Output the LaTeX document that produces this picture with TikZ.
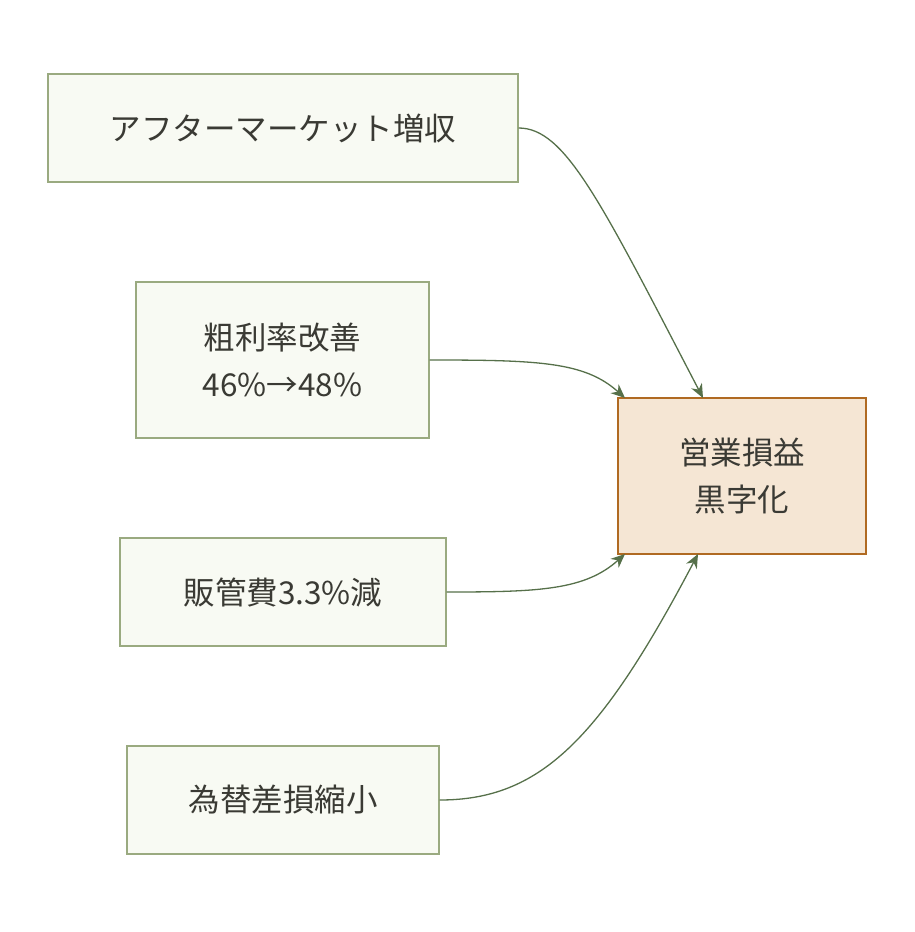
\documentclass[tikz,border=0pt]{standalone}
\usepackage{fontspec}
\setmainfont{Noto Sans CJK JP}
\usetikzlibrary{arrows.meta}
\definecolor{bfill}{HTML}{F8FAF3}
\definecolor{bdraw}{HTML}{9AAA80}
\definecolor{tfill}{HTML}{F5E6D4}
\definecolor{tdraw}{HTML}{B06A22}
\definecolor{edge}{HTML}{56704A}
\definecolor{txt}{HTML}{3A3A34}
\begin{document}
\begin{tikzpicture}[x=1pt,y=-1pt,
  box/.style={draw=bdraw,fill=bfill,line width=1.3pt,inner sep=0pt,text=txt,font=\fontsize{31.5}{47}\selectfont,align=center},
  tgt/.style={draw=tdraw,fill=tfill,line width=1.3pt,inner sep=0pt,text=txt,font=\fontsize{31.5}{47}\selectfont,align=center},
  arr/.style={draw=edge,line width=1.3pt,-{Stealth[length=14pt,width=12pt]}}]
\useasboundingbox (0,0) rectangle (914,932);
\node[box,minimum width=470pt,minimum height=108pt] (a) at (283,128) {アフターマーケット増収};
\node[box,minimum width=293pt,minimum height=156pt] (b) at (282.5,360) {粗利率改善\\46\%→48\%};
\node[box,minimum width=326pt,minimum height=108pt] (c) at (283,592) {販管費3.3\%減};
\node[box,minimum width=312pt,minimum height=108pt] (d) at (283,800) {為替差損縮小};
\node[tgt,minimum width=248pt,minimum height=156pt] (t) at (742,476) {営業損益\\黒字化};
\coordinate (t1) at (703,398);
\coordinate (t2) at (625,398);
\coordinate (t3) at (625,554);
\coordinate (t4) at (698,554);
\draw[arr] (a.east) .. controls (565,128) and (600,200) .. (t1);
\draw[arr] (b.east) .. controls (540,360) and (585,362) .. (t2);
\draw[arr] (c.east) .. controls (540,592) and (585,590) .. (t3);
\draw[arr] (d.east) .. controls (540,800) and (600,740) .. (t4);
\end{tikzpicture}
\end{document}
